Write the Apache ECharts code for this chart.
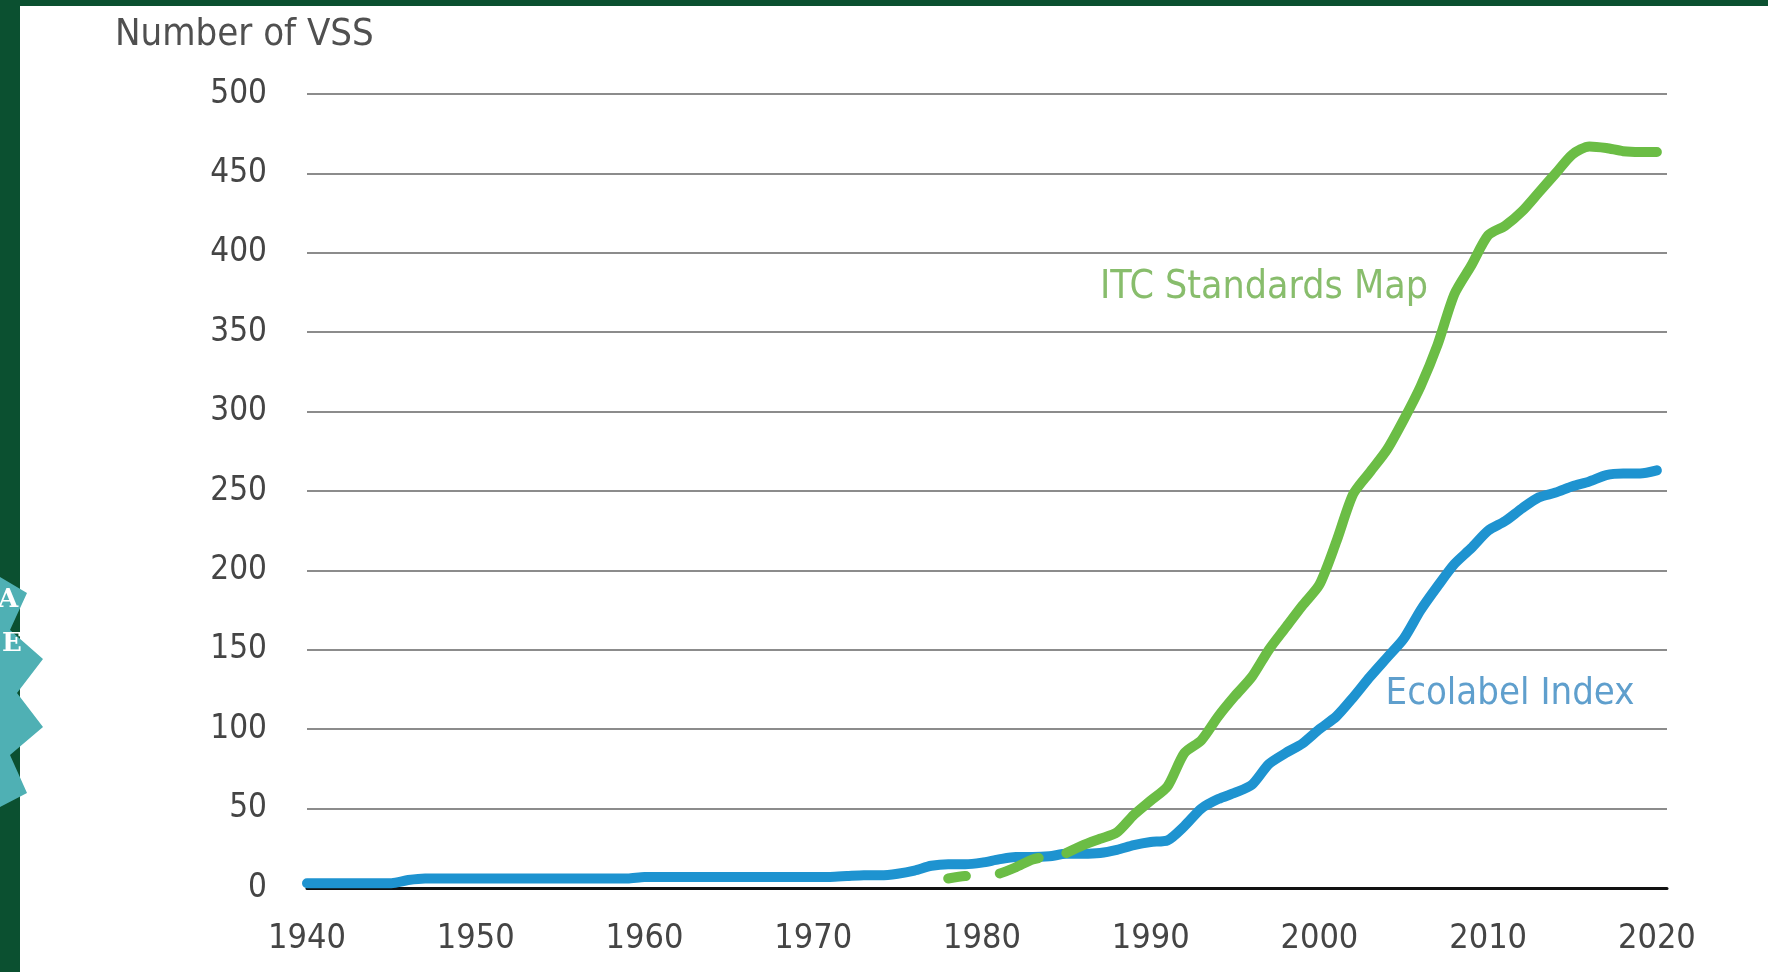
<!DOCTYPE html>
<html lang="en">
<head>
<meta charset="UTF-8">
<title>Number of VSS</title>
<script src="https://cdn.jsdelivr.net/npm/echarts@6/dist/echarts.min.js"></script>
<style>
    html, body { margin: 0; padding: 0; background: #0b5030; overflow: hidden; }
    #panel { position: absolute; left: 20px; top: 6px; width: 1748px; height: 966px; background: #fff; }
    #graph { position: absolute; left: 0; top: 0; width: 1768px; height: 972px; }
</style>
</head>
<body>
<div id="panel"></div>
<div id="graph"></div>
<script>
    // Ecolabel Index, one value a year 1940-2020
    var ecoYears = [];
    for (var y = 1940; y <= 2020; y++) ecoYears.push(y);
    var ecoValues = [
        3, 3, 3, 3, 3, 3, 5, 6, 6, 6,            // 1940-1949
        6, 6, 6, 6, 6, 6, 6, 6, 6, 6,            // 1950-1959
        7, 7, 7, 7, 7, 7, 7, 7, 7, 7,            // 1960-1969
        7, 7, 7.5, 8, 8, 9, 11, 14, 15, 15,      // 1970-1979
        16, 18, 19.5, 19.5, 20, 21.5, 21.5, 22, 24, 27,   // 1980-1989
        29, 30, 39, 50, 56, 60, 65, 78, 85, 91,  // 1990-1999
        100, 108, 120, 133, 145, 157, 175, 190, 204, 214, // 2000-2009
        225, 231, 239, 246, 249, 253, 256, 260, 261, 261, // 2010-2019
        263                                      // 2020
    ];

    // ITC Standards Map, 1978-2020 (dashed until 1985)
    var itcYears = [];
    for (var y2 = 1978; y2 <= 2020; y2++) itcYears.push(y2);
    var itcValues = [
        6, 7.5,                                  // 1978-1979
        8, 9, 13, 18, 20, 22, 27, 31, 35, 46,    // 1980-1989
        55, 64, 85, 93, 108, 121, 133, 150, 164, 178,     // 1990-1999
        191, 218, 248, 262, 276, 295, 316, 342, 374, 392, // 2000-2009
        411, 417, 426, 438, 450, 462, 467, 466, 464, 463.5, // 2010-2019
        463.5                                    // 2020
    ];
    var itcSolidFrom = 1985;

    var yTicks = [0, 50, 100, 150, 200, 250, 300, 350, 400, 450, 500];
    var xTicks = [1940, 1950, 1960, 1970, 1980, 1990, 2000, 2010, 2020];

    var ecoData = ecoYears.map(function (yr, i) { return [yr, ecoValues[i]]; });
    var itcDashed = [], itcSolid = [];
    for (var k = 0; k < itcYears.length; k++) {
        if (itcYears[k] <= itcSolidFrom) itcDashed.push([itcYears[k], itcValues[k]]);
        if (itcYears[k] >= itcSolidFrom) itcSolid.push([itcYears[k], itcValues[k]]);
    }

    var FONT = '"DejaVu Sans Condensed", "Liberation Sans Narrow", "Roboto", sans-serif';
    var GREEN = '#6bbd45';
    var BLUE = '#1e93d0';

    var myChart = echarts.init(document.getElementById('graph'), null, { renderer: 'canvas' });
    var option = {
        animation: false,
        backgroundColor: 'transparent',
        grid: {
            left: 307, right: 101, top: 94, bottom: 84,
            containLabel: false, outerBoundsMode: 'none'
        },
        xAxis: {
            type: 'value',
            min: xTicks[0],
            max: 2020.6,
            interval: 10,
            axisLine: { show: true, lineStyle: { color: '#111', width: 3 } },
            axisTick: { show: false },
            splitLine: { show: false },
            axisLabel: {
                margin: 34,
                fontFamily: FONT,
                fontSize: 34,
                color: '#454545',
                formatter: function (v) { return xTicks.indexOf(v) >= 0 ? String(v) : ''; }
            }
        },
        yAxis: {
            type: 'value',
            min: yTicks[0],
            max: yTicks[yTicks.length - 1],
            interval: 50,
            axisLine: { show: false },
            axisTick: { show: false },
            splitLine: { show: true, lineStyle: { color: '#8c8c8c', width: 2 } },
            axisLabel: {
                margin: 40,
                fontFamily: FONT,
                fontSize: 33,
                color: '#454545'
            }
        },
        series: [
            {
                name: 'Ecolabel Index',
                type: 'line',
                data: ecoData,
                showSymbol: false,
                smooth: 0.25,
                lineStyle: { color: BLUE, width: 10, cap: 'round', join: 'round' },
                z: 3
            },
            {
                name: 'ITC Standards Map (early)',
                type: 'line',
                data: itcDashed,
                showSymbol: false,
                smooth: 0.25,
                lineStyle: { color: GREEN, width: 10, cap: 'round', type: [18, 34, 42, 60] },
                z: 4
            },
            {
                name: 'ITC Standards Map',
                type: 'line',
                data: itcSolid,
                showSymbol: false,
                smooth: 0.25,
                lineStyle: { color: GREEN, width: 10, cap: 'round', join: 'round' },
                z: 4
            }
        ],
        graphic: [
            {
                type: 'text', x: 115, y: 35, z: 10,
                style: { text: 'Number of VSS', font: '38px ' + FONT, fill: '#505050',
                         textAlign: 'left', textVerticalAlign: 'middle' }
            },
            {
                type: 'text', x: 1264, y: 288, z: 10,
                style: { text: 'ITC Standards Map', font: '39px ' + FONT, fill: '#88bd6c',
                         textAlign: 'center', textVerticalAlign: 'middle' }
            },
            {
                type: 'text', x: 1510, y: 694, z: 10,
                style: { text: 'Ecolabel Index', font: '38px ' + FONT, fill: '#5f9fcd',
                         textAlign: 'center', textVerticalAlign: 'middle' }
            },
            // teal badge cut off on the left edge
            {
                type: 'polygon', z: 20,
                shape: { points: [[0, 577], [27, 593], [10, 630], [43, 659], [17, 693],
                                  [43, 727], [10, 755], [27, 793], [0, 807]] },
                style: { fill: '#4fb0b4' }
            },
            {
                type: 'text', x: 8, y: 600, z: 21,
                style: { text: 'A', font: 'bold 26px "DejaVu Serif", serif', fill: '#fff',
                         textAlign: 'center', textVerticalAlign: 'middle' }
            },
            {
                type: 'text', x: 12, y: 644, z: 21,
                style: { text: 'E', font: 'bold 26px "DejaVu Serif", serif', fill: '#fff',
                         textAlign: 'center', textVerticalAlign: 'middle' }
            }
        ]
    };
    myChart.setOption(option);
</script>
</body>
</html>
